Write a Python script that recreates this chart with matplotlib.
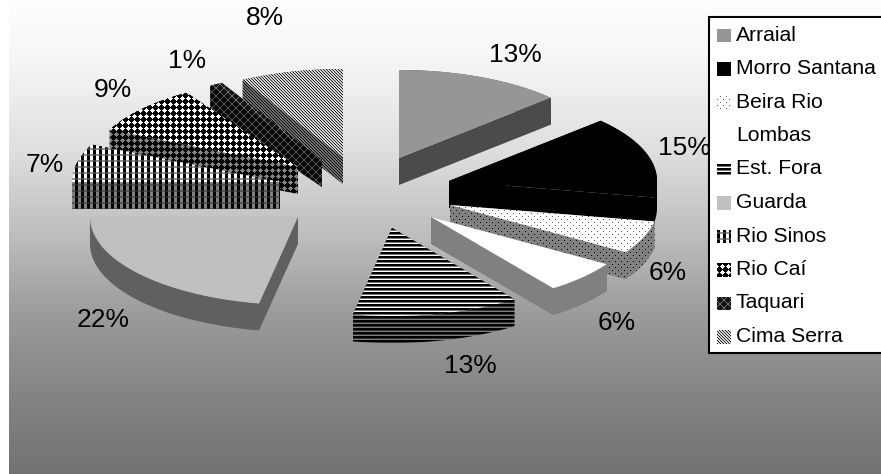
#!/usr/bin/env python3
"""Exploded 3D-look pie of shares per region, grey fills and pixel patterns."""

import numpy as np
import matplotlib
matplotlib.use("Agg")
import matplotlib.pyplot as plt
from matplotlib.patches import Rectangle, PathPatch
from matplotlib.path import Path

plt.rcParams['font.family'] = ['Liberation Sans', 'DejaVu Sans']

W, H = 881, 474

names = ["Arraial", "Morro Santana", "Beira Rio", "Lombas", "Est. Fora",
         "Guarda", "Rio Sinos", "Rio Caí", "Taquari", "Cima Serra"]
values = [13, 15, 6, 6, 13, 22, 7, 9, 1, 8]

# layout: where each exploded slice has its tip, and where its % label sits
tips = [(399, 158), (449, 181), (450, 205), (431, 217), (392, 228),
        (298, 217), (280, 182), (298, 167), (322, 160), (343, 157)]
label_pos = [(515, 54), (684, 147), (668, 272), (617, 322), (470, 365),
             (103, 319), (45, 164), (113, 89), (187, 60), (265, 17)]
RX, RY, DEPTH = 208, 88, 27


def solid(v):
    return np.array([[v]], dtype=float)


def stripes(row):
    return np.array(row, dtype=float).reshape(-1, 1)


def dots(bg, fg):
    t = np.full((6, 6), bg, dtype=float)
    t[0, 0] = t[3, 3] = fg
    return t


def checks(a, b, c, d):
    t = np.zeros((6, 6))
    t[:4, :3], t[:4, 3:] = a, b
    t[4:, :3], t[4:, 3:] = c, d
    return t


def pluses(bg, fg):
    t = np.full((6, 6), bg, dtype=float)
    t[1:4, 1:4] = fg
    t[0, 2] = t[4, 2] = t[2, 0] = t[2, 4] = fg
    return t


def lattice(bg, fg):
    t = np.full((8, 8), bg, dtype=float)
    for i in range(8):
        t[i, i] = fg
        t[i, 7 - i] = fg
    return t


def diagonal(vals):
    n = len(vals)
    return np.array([[vals[(x - y) % n] for x in range(n)] for y in range(n)], dtype=float)


top_fill = [solid(150), solid(0), dots(255, 90), solid(255), stripes([0, 0, 120, 255]),
            solid(192), checks(255, 0, 150, 60), pluses(0, 255), lattice(20, 120),
            diagonal([235, 190, 30])]
side_fill = [solid(75), solid(0), dots(128, 0), solid(128), stripes([0, 0, 50, 128]),
             solid(96), checks(128, 0, 90, 30), pluses(0, 128), lattice(10, 90),
             diagonal([128, 95, 10])]


def textured(ax, path, tile, z):
    """Fill a path with a pixel pattern aligned to the image grid."""
    ny = H // tile.shape[0] + 1
    nx = W // tile.shape[1] + 1
    img = np.tile(tile, (ny, nx))[:H, :W]
    im = ax.imshow(img, cmap='gray', vmin=0, vmax=255, extent=(0, W, H, 0),
                   interpolation='nearest', aspect='auto', zorder=z)
    im.set_clip_path(PathPatch(path, transform=ax.transData))


def side_path(outline):
    """All edges of the slice outline pushed down by DEPTH, as one path."""
    quads = []
    for p, q in zip(outline, np.roll(outline, -1, axis=0)):
        pts = np.array([p, q, q + [0, DEPTH], p + [0, DEPTH]])
        x, y = pts[:, 0], pts[:, 1]
        if np.sum(x * np.roll(y, -1) - np.roll(x, -1) * y) < 0:
            pts = pts[::-1]
        quads.append(Path(np.vstack([pts, pts[:1]]), closed=True))
    return Path.make_compound_path(*quads)


fig = plt.figure(figsize=(W / 100, H / 100), dpi=100, facecolor='white')
ax = fig.add_axes([0, 0, 1, 1])

# background gradient, with the white strip on the left left alone
grad = np.interp(np.arange(H), [0, 60, 150, 237, 316, 400, 474],
                 [253, 245, 222, 188, 154, 130, 114]).reshape(-1, 1)
ax.imshow(grad, cmap='gray', vmin=0, vmax=255, extent=(9, W, H, 0), aspect='auto', zorder=0)

edges = np.cumsum([0] + values) * 3.6
draw_order = list(np.argsort([t[1] for t in tips], kind='stable'))
for n, i in enumerate(draw_order):
    th = np.radians(np.linspace(edges[i], edges[i + 1], 60))
    tx, ty = tips[i]
    arc = np.column_stack([tx + RX * np.sin(th), ty - RY * np.cos(th)])
    outline = np.vstack([[tx, ty], arc])
    z = 1 + 0.1 * n
    textured(ax, side_path(outline), side_fill[i], z)
    textured(ax, Path(np.vstack([outline, outline[:1]]), closed=True), top_fill[i], z + 0.05)

for v, (x, y) in zip(values, label_pos):
    ax.text(x, y + 1, f"{v}%", fontsize=19, color='black', ha='center', va='center', zorder=5)

# legend
ax.add_patch(Rectangle((709, 17), 180, 336, facecolor='white', edgecolor='black', lw=1.5, zorder=6))
for i, name in enumerate(names):
    y = 35 + i * 33.5
    box = Path([(717, y - 6.5), (731, y - 6.5), (731, y + 7), (717, y + 7), (717, y - 6.5)], closed=True)
    textured(ax, box, top_fill[i], 7)
    ax.text(736, y, name, fontsize=15.2, color='black', ha='left', va='center', zorder=8)

ax.set_xlim(0, W)
ax.set_ylim(H, 0)
ax.axis('off')
fig.savefig("out.png", dpi=100)
